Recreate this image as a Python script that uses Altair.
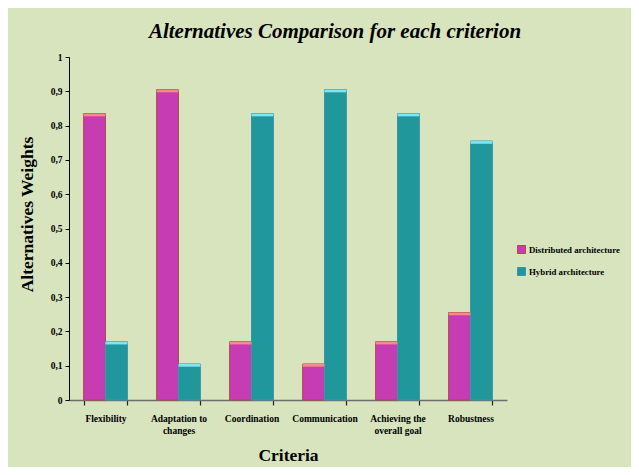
import altair as alt
import pandas as pd

criteria = ["Flexibility", "Adaptation to changes", "Coordination",
            "Communication", "Achieving the overall goal", "Robustness"]
distributed = [0.835, 0.905, 0.17, 0.105, 0.17, 0.255]
hybrid = [0.17, 0.105, 0.835, 0.905, 0.835, 0.755]
series = ["Distributed architecture", "Hybrid architecture"]
y_ticks = [0, 0.1, 0.2, 0.3, 0.4, 0.5, 0.6, 0.7, 0.8, 0.9, 1.0]

rows = []
for c, d, h in zip(criteria, distributed, hybrid):
    rows.append({"criterion": c, "series": series[0], "value": d})
    rows.append({"criterion": c, "series": series[1], "value": h})
df = pd.DataFrame(rows)

FONT = "Liberation Serif, Times New Roman, Times, serif"
fill_colors = ["#C63CB2", "#20979B"]
stroke_colors = ["#B24848", "#3E92AA"]
cap_colors = ["#F48A8A", "#7EE6F2"]

label_expr = ("datum.label == 'Adaptation to changes' ? ['Adaptation to', 'changes'] : "
              "datum.label == 'Achieving the overall goal' ? ['Achieving the', 'overall goal'] : datum.label")
y_label_expr = ("datum.value == 0 ? '0' : datum.value == 1 ? '1' : "
                "replace(format(datum.value, '.1f'), '.', ',')")

x_axis = alt.Axis(title="Criteria", labelAngle=0, labelExpr=label_expr,
                  tickBand="extent", labelFont=FONT, labelFontSize=9.5,
                  labelFontWeight="bold", labelColor="black",
                  labelPadding=8, labelLineHeight=12,
                  domainColor="#6E6E6E", domainWidth=1.5,
                  tickColor="#222222", tickSize=5, tickWidth=1.2,
                  titleFont=FONT, titleFontSize=17.5, titleFontWeight="bold",
                  titleColor="black", titlePadding=12)

y_axis = alt.Axis(title="Alternatives Weights", values=y_ticks, tickCount=11,
                  labelExpr=y_label_expr, grid=False, labelOverlap=False,
                  labelFont=FONT, labelFontSize=9.5, labelFontWeight="bold",
                  labelColor="black", labelPadding=3,
                  domainColor="black", tickColor="black", tickSize=4,
                  titleFont=FONT, titleFontSize=17.5, titleFontWeight="bold",
                  titleColor="black", titlePadding=14, titleY=157)

x_scale = alt.Scale(paddingInner=0.4, paddingOuter=0.2)
y_scale = alt.Scale(domain=[0, 1], nice=False)

bars = alt.Chart(df).mark_bar(strokeWidth=1).encode(
    x=alt.X("criterion:N", sort=criteria, scale=x_scale, axis=x_axis),
    xOffset=alt.XOffset("series:N", sort=series),
    y=alt.Y("value:Q", scale=y_scale, axis=y_axis),
    color=alt.Color("series:N", sort=series,
                    scale=alt.Scale(domain=series, range=fill_colors),
                    legend=alt.Legend(title=None, orient="none", legendX=448, legendY=188,
                                      symbolType="square", symbolSize=64,
                                      symbolStrokeWidth=1,
                                      labelFont=FONT, labelFontSize=8.8,
                                      labelFontWeight="bold", labelColor="black",
                                      rowPadding=9, labelOffset=3)),
    stroke=alt.Stroke("series:N", sort=series,
                      scale=alt.Scale(domain=series, range=stroke_colors), legend=None),
)

caps = alt.Chart(df).transform_calculate(
    top="datum.value - 0.008"
).mark_bar().encode(
    x=alt.X("criterion:N", sort=criteria, scale=x_scale, axis=x_axis),
    xOffset=alt.XOffset("series:N", sort=series),
    y=alt.Y("value:Q", scale=y_scale, axis=y_axis),
    y2="top:Q",
    color=alt.Color("series:N", sort=series,
                    scale=alt.Scale(domain=series, range=cap_colors), legend=None),
)

chart = alt.layer(bars, caps).resolve_scale(color="independent", stroke="independent").properties(
    width=438, height=343,
    padding={"left": 61, "top": 49, "right": 124, "bottom": 67},
    autosize=alt.AutoSizeParams(type="none"),
    background="#D8E4BE",
    title=alt.Title("Alternatives  Comparison for each criterion", font=FONT,
                    fontSize=21, fontWeight="bold", fontStyle="italic",
                    color="black", anchor="middle", dx=47, offset=10),
).configure_view(stroke=None)

chart.save("out.html", embed_options={"renderer": "svg", "actions": False})
